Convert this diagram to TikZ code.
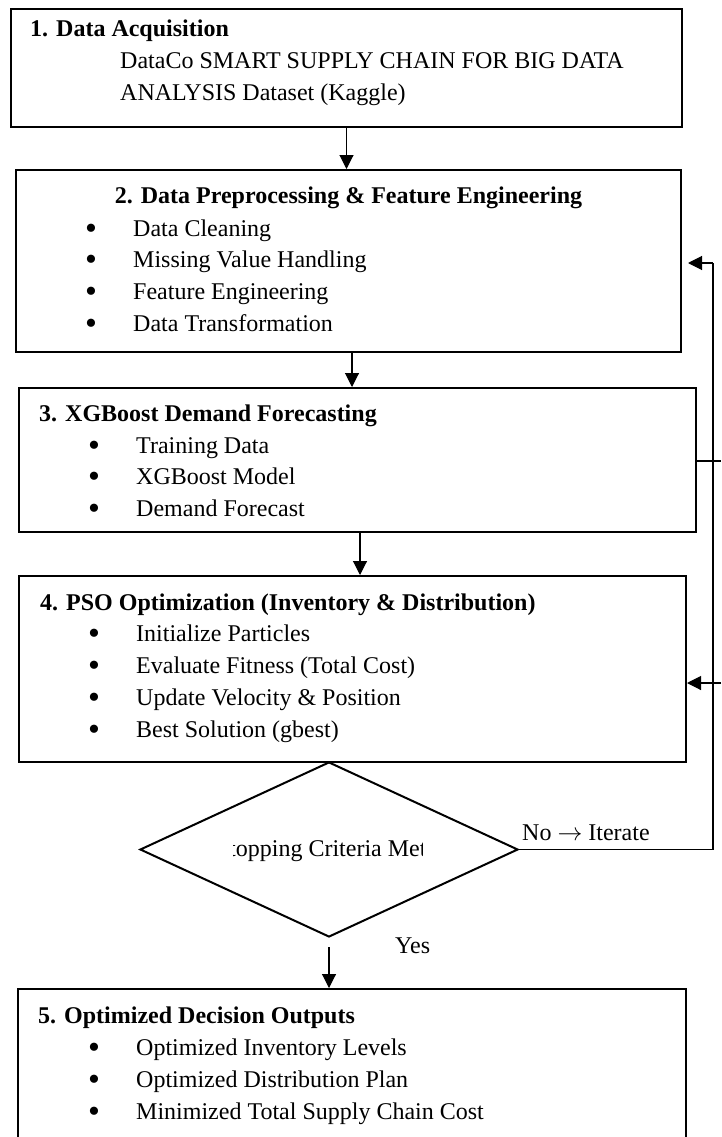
\documentclass[tikz,border=0pt]{standalone}
\usepackage{fontspec}
\setmainfont{Liberation Serif}
\usetikzlibrary{shapes.geometric,arrows.meta}
\begin{document}
\begin{tikzpicture}[x=1pt,y=-1pt,
  box/.style={draw, line width=2pt, inner sep=0pt},
  txt/.style={anchor=base west, inner sep=0pt, font=\fontsize{24}{30}\selectfont},
  ttl/.style={anchor=base west, inner sep=0pt, font=\fontsize{24}{30}\selectfont\bfseries},
  bul/.style={anchor=base, inner sep=0pt, yshift=-3pt, font=\fontsize{34}{34}\selectfont},
  ctr/.style={anchor=base, inner sep=0pt, font=\fontsize{24}{30}\selectfont},
  conn/.style={line width=1.1pt},
  arr/.style={conn, -{Triangle[width=14pt,length=14pt]}}]
\useasboundingbox (0,0) rectangle (721,1137);

% boxes
\node[box, minimum width=671pt, minimum height=118pt] (b1) at (346.5,68) {};
\node[box, minimum width=665pt, minimum height=182pt] (b2) at (348.5,261) {};
\node[box, minimum width=677pt, minimum height=144pt] (b3) at (357.5,460) {};
\node[box, minimum width=667pt, minimum height=186pt] (b4) at (352.5,669) {};
\node[box, minimum width=668pt, minimum height=161pt] (b5) at (352,1069.5) {};
\node[draw, diamond, line width=2pt, inner sep=0pt, minimum width=378pt, minimum height=175pt] (d) at (329,849.5) {};

% box 1 text
\node[ttl] (t1) at (30,37) {1. Data Acquisition};
\node[txt] (t1a) at (120,69) {DataCo SMART SUPPLY CHAIN FOR BIG DATA};
\node[txt] (t1b) at (120,101) {ANALYSIS Dataset (Kaggle)};

% box 2 text
\node[anchor=base, inner sep=0pt, font=\fontsize{24}{30}\selectfont\bfseries] (t2) at (348.5,203) {2. Data Preprocessing \& Feature Engineering};
\node[bul] (u21) at (91,236) {•}; \node[txt] (i21) at (133,236) {Data Cleaning};
\node[bul] (u22) at (91,267) {•}; \node[txt] (i22) at (133,267) {Missing Value Handling};
\node[bul] (u23) at (91,299) {•}; \node[txt] (i23) at (133,299) {Feature Engineering};
\node[bul] (u24) at (91,331) {•}; \node[txt] (i24) at (133,331) {Data Transformation};

% box 3 text
\node[ttl] (t3) at (39,421) {3. XGBoost Demand Forecasting};
\node[bul] (u31) at (94,453) {•}; \node[txt] (i31) at (136,453) {Training Data};
\node[bul] (u32) at (94,484) {•}; \node[txt] (i32) at (136,484) {XGBoost Model};
\node[bul] (u33) at (94,516) {•}; \node[txt] (i33) at (136,516) {Demand Forecast};

% box 4 text
\node[ttl] (t4) at (40,610) {4. PSO Optimization (Inventory \& Distribution)};
\node[bul] (u41) at (94,641) {•}; \node[txt] (i41) at (136,641) {Initialize Particles};
\node[bul] (u42) at (94,673) {•}; \node[txt] (i42) at (136,673) {Evaluate Fitness (Total Cost)};
\node[bul] (u43) at (94,705) {•}; \node[txt] (i43) at (136,705) {Update Velocity \& Position};
\node[bul] (u44) at (94,737) {•}; \node[txt] (i44) at (136,737) {Best Solution (gbest)};

% box 5 text
\node[ttl] (t5) at (38,1023) {5. Optimized Decision Outputs};
\node[bul] (u51) at (94,1055) {•}; \node[txt] (i51) at (136,1055) {Optimized Inventory Levels};
\node[bul] (u52) at (94,1087) {•}; \node[txt] (i52) at (136,1087) {Optimized Distribution Plan};
\node[bul] (u53) at (94,1119) {•}; \node[txt] (i53) at (136,1119) {Minimized Total Supply Chain Cost};

% diamond text (clipped as in the original)
\begin{scope}
\clip (233,820) rectangle (422,880);
\node[ctr] (dt) at (326.5,856) {Stopping Criteria Met?};
\end{scope}

% labels
\node[txt] (lno) at (522,840) {No $\rightarrow$ Iterate};
\node[txt] (lyes) at (395,953) {Yes};

% connectors
\draw[arr] (b1.south) -- (b1.south |- b2.north);
\draw[arr] ([xshift=3.5pt]b2.south) -- ([xshift=3.5pt]b2.south |- b3.north);
\draw[arr] ([xshift=2.5pt]b3.south) -- ([xshift=2.5pt]b3.south |- b4.north);
\coordinate (ys) at (329,947);
\draw[arr] (ys) -- (ys |- b5.north);

\coordinate (fb) at (713,849.5);
\coordinate (fbtop) at (713,263);
\draw[conn] (d.east) -- (fb) -- (fbtop);
\draw[arr, shorten >=6pt] (fbtop) -- (fbtop -| b2.east);
\coordinate (e3) at (721,461);
\draw[conn] (e3 -| b3.east) -- (e3);
\coordinate (e4) at (721,683);
\draw[arr] (e4) -- (e4 -| b4.east);
\end{tikzpicture}
\end{document}
